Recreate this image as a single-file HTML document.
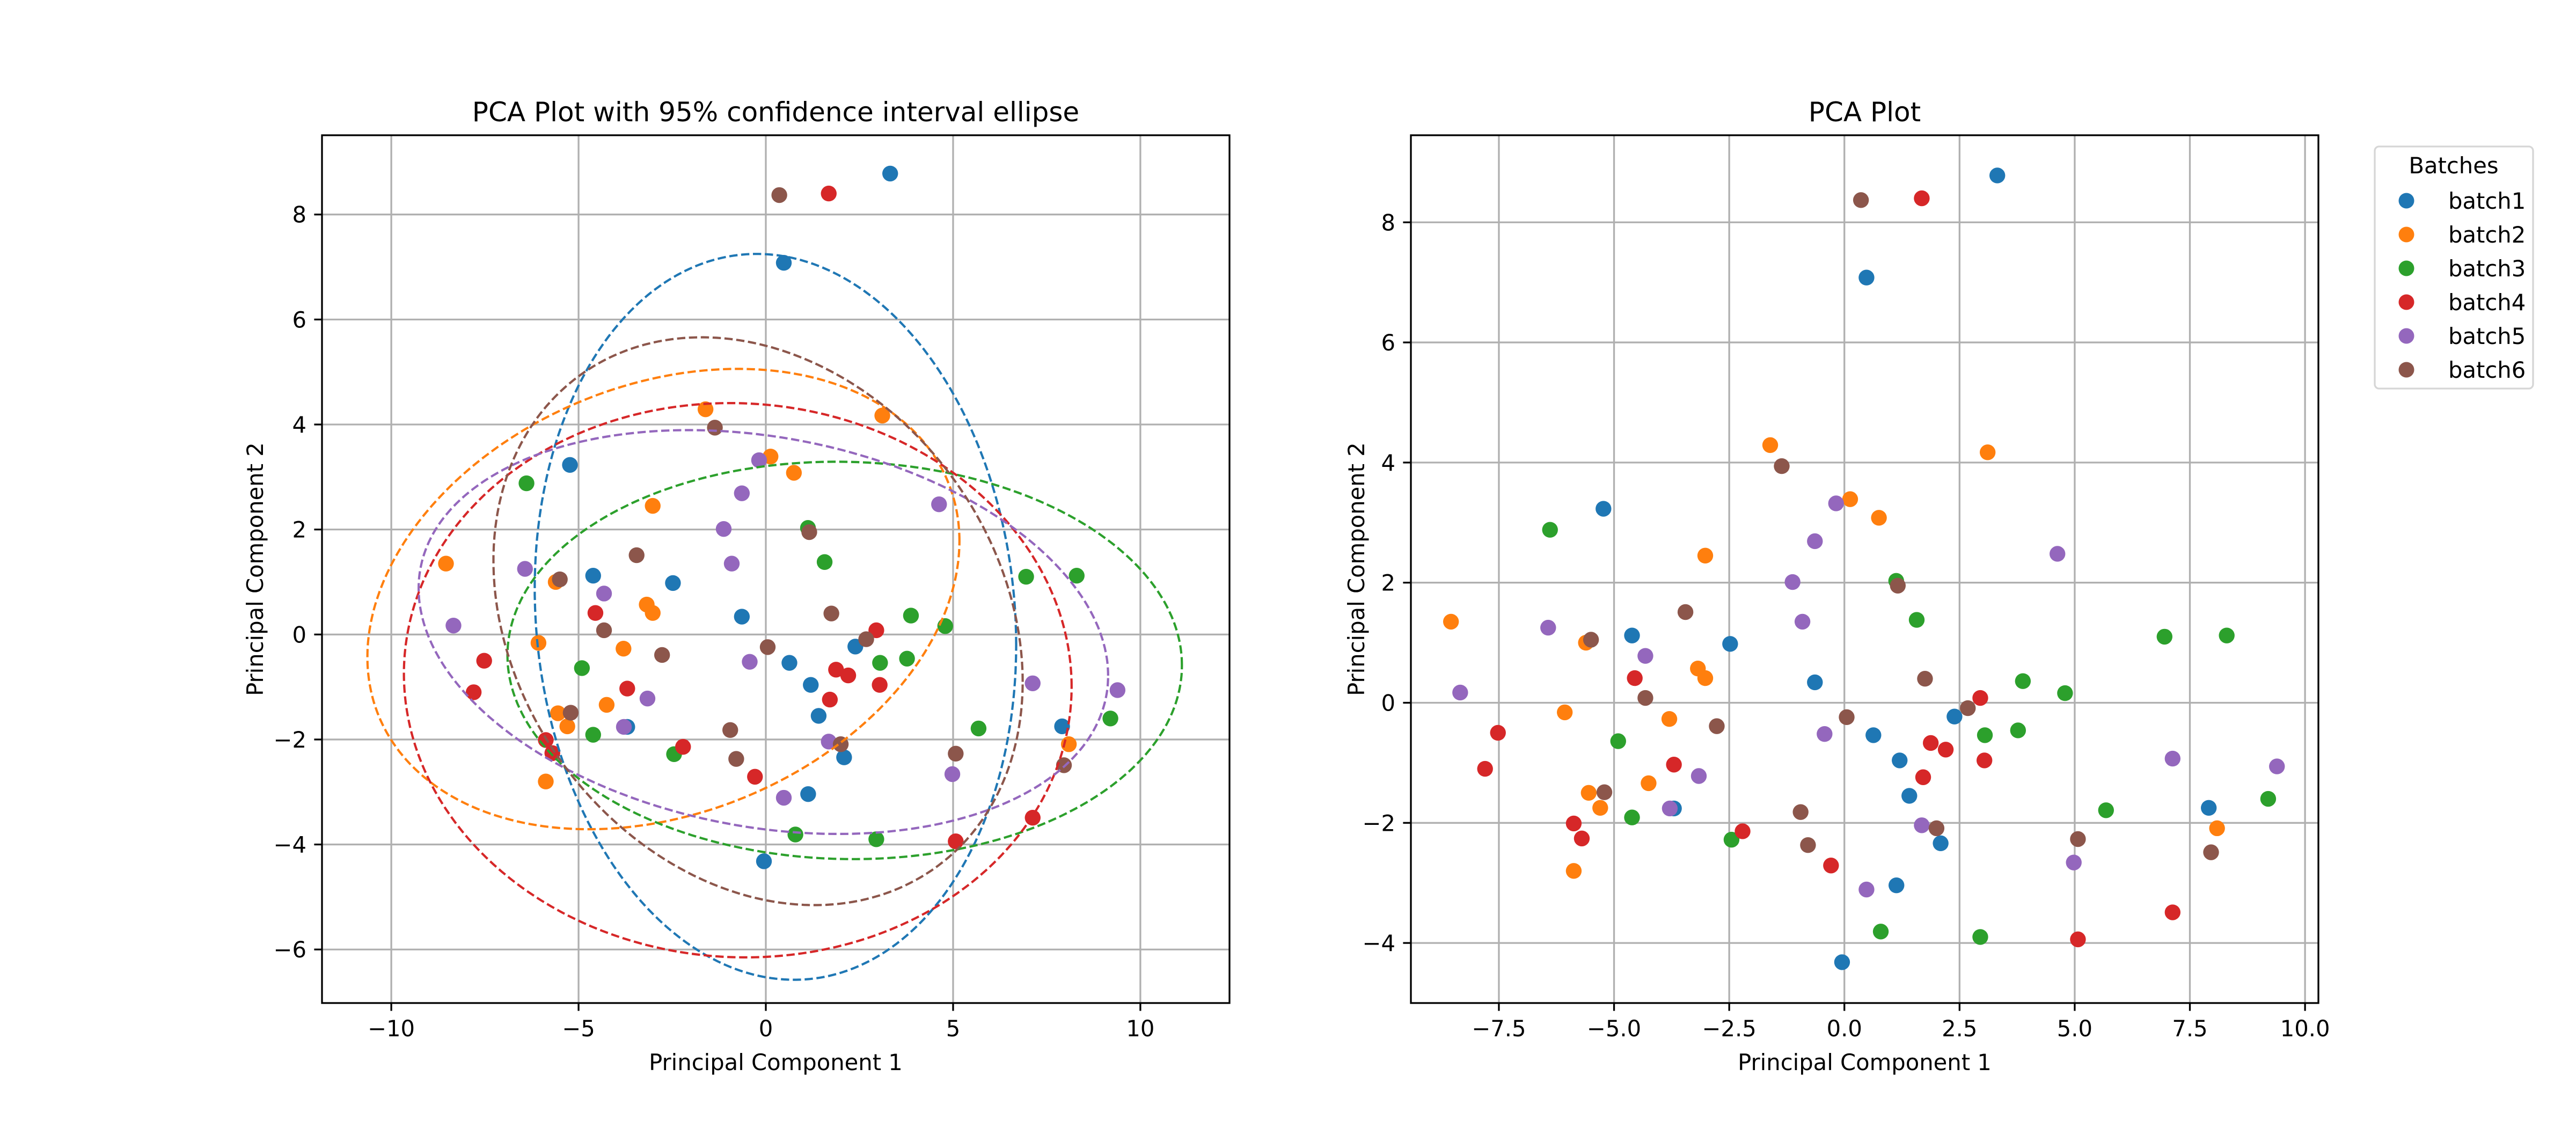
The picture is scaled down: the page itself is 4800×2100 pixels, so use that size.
<!DOCTYPE html>
<html><head><meta charset="utf-8"><style>
html,body{margin:0;padding:0;background:#fff;}
svg{display:block;font-family:"DejaVu Sans","Liberation Sans",sans-serif;}
</style></head><body>
<svg id="fig" xmlns="http://www.w3.org/2000/svg" width="4800" height="2100" viewBox="0 0 4800 2100">
<rect width="4800" height="2100" fill="#fff"/>
</svg>
<script>
const batchNames = ["batch1","batch2","batch3","batch4","batch5","batch6"];
const batchColors = ["#1f77b4","#ff7f0e","#2ca02c","#d62728","#9467bd","#8c564b"];
const b1x = [3.32,0.48,-5.23,-4.61,-2.48,-0.64,2.39,0.63,1.2,1.41,-3.70,2.09,1.13,-0.05,7.91];
const b1y = [8.78,7.08,3.23,1.12,0.98,0.34,-0.23,-0.54,-0.96,-1.55,-1.76,-2.34,-3.04,-4.32,-1.75];
const b2x = [-1.61,3.11,0.125,0.75,-3.02,-8.54,-5.61,-3.18,-3.02,-6.07,-3.80,-4.25,-5.55,-5.30,-5.875,8.09];
const b2y = [4.29,4.17,3.39,3.08,2.45,1.35,1.0,0.57,0.41,-0.16,-0.27,-1.34,-1.50,-1.75,-2.80,-2.09];
const b3x = [-6.39,1.125,1.57,6.95,8.30,3.875,4.79,-4.91,3.05,3.77,-4.61,5.68,9.20,-2.45,0.79,2.95];
const b3y = [2.88,2.03,1.38,1.10,1.12,0.36,0.16,-0.64,-0.54,-0.46,-1.91,-1.79,-1.60,-2.28,-3.81,-3.90];
const b4x = [1.68,-4.55,2.95,-7.52,1.875,2.20,-7.80,-3.70,3.04,1.71,-5.875,-5.70,-2.21,-0.29,7.125,5.07];
const b4y = [8.40,0.41,0.08,-0.50,-0.67,-0.78,-1.10,-1.03,-0.96,-1.24,-2.01,-2.26,-2.14,-2.71,-3.49,-3.94];
const b5x = [-0.18,-0.64,4.625,-1.125,-0.91,-6.43,-4.32,-8.34,-0.43,7.125,9.39,-3.16,-3.79,1.68,4.98,0.48];
const b5y = [3.32,2.69,2.48,2.01,1.35,1.25,0.78,0.17,-0.52,-0.93,-1.06,-1.22,-1.76,-2.04,-2.66,-3.11];
const b6x = [0.36,-1.36,1.16,-3.45,-5.5,-4.32,1.75,2.68,0.05,-2.77,-5.21,-0.95,-0.79,2.0,5.07,7.96];
const b6y = [8.37,3.94,1.95,1.51,1.05,0.08,0.40,-0.09,-0.24,-0.39,-1.49,-1.82,-2.37,-2.09,-2.27,-2.49];
const leftXTicks = [-10,-5,0,5,10];
const leftYTicks = [-6,-4,-2,0,2,4,6,8];
const rightXTicks = [-7.5,-5.0,-2.5,0.0,2.5,5.0,7.5,10.0];
const rightYTicks = [-4,-2,0,2,4,6,8];
const nStd = 1.92;

const NS = "http://www.w3.org/2000/svg";
const svg = document.getElementById("fig");
const XS = [b1x,b2x,b3x,b4x,b5x,b6x], YS = [b1y,b2y,b3y,b4y,b5y,b6y];
function mk(tag, attrs, parent){const e=document.createElementNS(NS,tag);for(const k in attrs)e.setAttribute(k,attrs[k]);(parent||svg).appendChild(e);return e;}
function fmt(v,dec){const s=Math.abs(v).toFixed(dec);return (v<0?"\u2212":"")+s;}

function makeAxes(cfg){
  const g = mk("g",{});
  
  
  const L=cfg.L,R=cfg.R,T=252,B=1869;
  const sx=v=>L+(v-cfg.xmin)/(cfg.xmax-cfg.xmin)*(R-L);
  const sy=v=>B-(v-cfg.ymin)/(cfg.ymax-cfg.ymin)*(B-T);
  const clipId = cfg.name+"-clip";
  const cp = mk("clipPath",{id:clipId},g); mk("rect",{x:L,y:T,width:R-L,height:B-T},cp);
  cfg.xt.forEach(v=>{
    const x=sx(v);
    const gl=mk("line",{x1:x,x2:x,y1:T,y2:B,stroke:"#b0b0b0","stroke-width":3.3},g);
    
    
    mk("line",{x1:x,x2:x,y1:B,y2:B+14.6,stroke:"#000","stroke-width":3.3},g);
    const t=mk("text",{x:x,y:1931,"font-size":41.7,"text-anchor":"middle",fill:"#000"},g);
    t.textContent=fmt(v,cfg.xdec);
    
    
  });
  cfg.yt.forEach(v=>{
    const y=sy(v);
    const gl=mk("line",{x1:L,x2:R,y1:y,y2:y,stroke:"#b0b0b0","stroke-width":3.3},g);
    
    
    mk("line",{x1:L-14.6,x2:L,y1:y,y2:y,stroke:"#000","stroke-width":3.3},g);
    const t=mk("text",{x:L-29,y:y+15,"font-size":41.7,"text-anchor":"end",fill:"#000"},g);
    t.textContent=fmt(v,0);
    
    
  });
  const plot = mk("g",{"clip-path":"url(#"+clipId+")"},g);
  XS.forEach((xs,bi)=>{
    xs.forEach((xv,i)=>{
      const c=mk("circle",{cx:sx(xv),cy:sy(YS[bi][i]),r:14.7,fill:batchColors[bi]},plot);
      
      
    });
  });
  if(cfg.ellipses){
    XS.forEach((xs,bi)=>{
      const ys=YS[bi], n=xs.length;
      const mx=xs.reduce((a,b)=>a+b,0)/n, my=ys.reduce((a,b)=>a+b,0)/n;
      let cxx=0,cyy=0,cxy=0;
      for(let i=0;i<n;i++){cxx+=(xs[i]-mx)**2;cyy+=(ys[i]-my)**2;cxy+=(xs[i]-mx)*(ys[i]-my);}
      cxx/=(n-1);cyy/=(n-1);cxy/=(n-1);
      const a=Math.sqrt(cxx), b=cxy/a, c=Math.sqrt(Math.max(cyy-b*b,0));
      let d="";
      for(let k=0;k<=360;k++){
        const t=k*Math.PI/180, u=Math.cos(t), w=Math.sin(t);
        const px=mx+nStd*a*u, py=my+nStd*(b*u+c*w);
        d+=(k?"L":"M")+sx(px).toFixed(1)+","+sy(py).toFixed(1);
      }
      const p=mk("path",{d:d+"Z",fill:"none",stroke:batchColors[bi],"stroke-width":4.2,"stroke-dasharray":"15.4,6.7"},plot);
      
      
    });
  }
  mk("rect",{x:L,y:T,width:R-L,height:B-T,fill:"none",stroke:"#000","stroke-width":3.3},g);
  const title=mk("text",{x:(L+R)/2,y:226,"font-size":50,"text-anchor":"middle",fill:"#000"},g);
  title.textContent=cfg.title;
  
  
  const xl=mk("text",{x:(L+R)/2,y:1994,"font-size":41.7,"text-anchor":"middle",fill:"#000"},g);
  xl.textContent="Principal Component 1";
  
  
  const yx=cfg.ylx, yy=(T+B)/2;
  const yl=mk("text",{x:yx,y:yy,"font-size":41.7,"text-anchor":"middle",fill:"#000",transform:"rotate(-90 "+yx+" "+yy+")"},g);
  yl.textContent="Principal Component 2";
  
  
}
makeAxes({name:"ellipse-plot",L:600,R:2291,xmin:-11.85,xmax:12.38,ymin:-7.02,ymax:9.51,xt:leftXTicks,yt:leftYTicks,xdec:0,ellipses:true,title:"PCA Plot with 95% confidence interval ellipse",ylx:490});
makeAxes({name:"scatter-plot",L:2629,R:4320,xmin:-9.41,xmax:10.29,ymin:-5.0,ymax:9.45,xt:rightXTicks,yt:rightYTicks,xdec:1,ellipses:false,title:"PCA Plot",ylx:2542});

const lg=mk("g",{});


mk("rect",{x:4425,y:273,width:295,height:451,rx:8,fill:"#fff",stroke:"#d6d6d6","stroke-width":3.3},lg);
const lt=mk("text",{x:4572,y:323,"font-size":41.7,"text-anchor":"middle",fill:"#000"},lg);
lt.textContent="Batches";


batchNames.forEach((nm,i)=>{
  const y=374+i*63;
  const e=mk("g",{},lg);
  
  
  mk("circle",{cx:4484,cy:y,r:14.5,fill:batchColors[i]},e);
  const t=mk("text",{x:4562,y:y+15,"font-size":41.7,fill:"#000"},e);
  t.textContent=nm;
});
</script>
</body></html>
